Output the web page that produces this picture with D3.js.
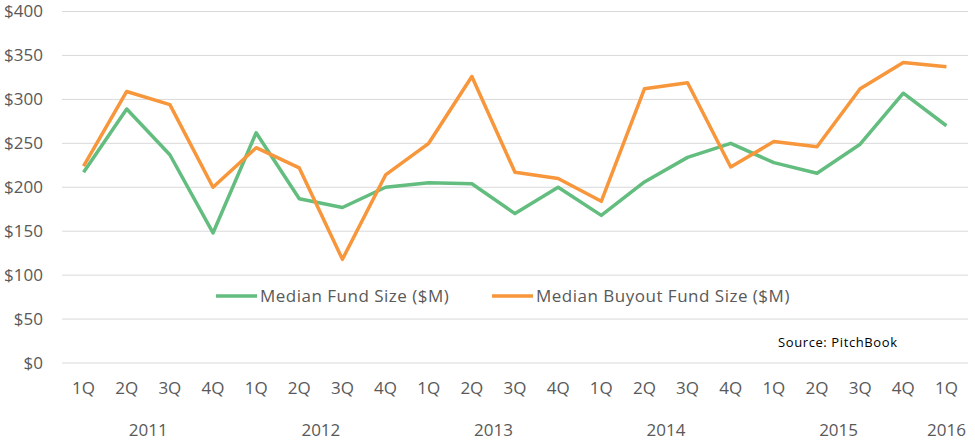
<!DOCTYPE html>
<html>
<head>
<meta charset="utf-8">
<script src="https://cdn.jsdelivr.net/npm/d3@7"></script>
<style>
  body { margin: 0; background: #fff; }
  text { font-family: "Open Sans", sans-serif; }
</style>
</head>
<body>
<div id="chart"></div>
<script>
// Quarters, 2011 1Q .. 2016 1Q
const years = ["2011", "2012", "2013", "2014", "2015", "2016"];
const quarters = ["1Q", "2Q", "3Q", "4Q"];
const periods = [];
years.forEach((y) => quarters.forEach((q) => {
  if (y !== "2016" || q === "1Q") periods.push(y + "-" + q);
}));

const medianFund = [217, 289, 237, 148, 262, 187, 177, 200, 205, 204, 170,
  200, 168, 206, 234, 250, 228, 216, 249, 307, 270];
const medianBuyout = [224, 309, 294, 200, 245, 222, 118, 214, 250, 326, 217,
  210, 184, 312, 319, 223, 252, 246, 312, 342, 337];
const yTicks = [0, 50, 100, 150, 200, 250, 300, 350, 400];

const series = [
  { name: "Median Fund Size ($M)", values: medianFund, color: "#62bd7f" },
  { name: "Median Buyout Fund Size ($M)", values: medianBuyout, color: "#f7963a" },
];

const W = 975, H = 440;
const margin = { top: 11.5, right: 7, bottom: 77, left: 62 };
const width = W - margin.left - margin.right;
const height = H - margin.top - margin.bottom;
const fontSize = "17px";

const svg = d3.select("#chart").append("svg")
  .attr("width", W).attr("height", H);
const g = svg.append("g")
  .attr("transform", `translate(${margin.left},${margin.top})`);

const x = d3.scaleBand().domain(periods).range([0, width]);
const y = d3.scaleLinear().domain([0, 400]).range([height, 0]);
const cx = (p) => x(p) + x.bandwidth() / 2;

// gridlines
g.selectAll(".grid").data(yTicks).enter().append("line")
  .attr("x1", 0).attr("x2", width)
  .attr("y1", (d) => y(d)).attr("y2", (d) => y(d))
  .attr("stroke", "#d9d9d9").attr("stroke-width", 1);

// y axis labels
const yAxis = g.append("g")
  .call(d3.axisLeft(y).tickValues(yTicks).tickSize(0).tickPadding(19)
    .tickFormat((d) => "$" + d));
yAxis.select(".domain").remove();
yAxis.selectAll("text").attr("fill", "#595959")
  .style("font-size", fontSize).style("font-family", "Open Sans, sans-serif");

// quarter labels
const xAxis = g.append("g").attr("transform", `translate(0,${height})`)
  .call(d3.axisBottom(x).tickSize(0).tickPadding(19)
    .tickFormat((d) => d.split("-")[1]));
xAxis.select(".domain").remove();
xAxis.selectAll("text").attr("fill", "#595959")
  .style("font-size", fontSize).style("font-family", "Open Sans, sans-serif");

// year labels
g.selectAll(".year").data(years).enter().append("text")
  .attr("x", (yr) => {
    const ps = periods.filter((p) => p.startsWith(yr));
    return (cx(ps[0]) + cx(ps[ps.length - 1])) / 2;
  })
  .attr("y", height + 73)
  .attr("text-anchor", "middle")
  .attr("fill", "#595959")
  .style("font-size", fontSize)
  .text((d) => d);

// lines
const line = d3.line()
  .x((d, i) => cx(periods[i]))
  .y((d) => y(d));

g.selectAll(".series").data(series).enter().append("path")
  .attr("fill", "none")
  .attr("stroke", (d) => d.color)
  .attr("stroke-width", 3.5)
  .attr("stroke-linejoin", "round")
  .attr("d", (d) => line(d.values));

// legend
const legendX = [216, 492];
const legend = svg.selectAll(".legend").data(series).enter().append("g")
  .attr("transform", (d, i) => `translate(${legendX[i]},296)`);
legend.append("line")
  .attr("x1", 0).attr("x2", 41)
  .attr("stroke", (d) => d.color).attr("stroke-width", 3.5);
legend.append("text")
  .attr("x", 44).attr("y", 6)
  .attr("fill", "#595959")
  .style("font-size", fontSize)
  .style("letter-spacing", "0.5px")
  .text((d) => d.name);

// source note
svg.append("text")
  .attr("x", 778).attr("y", 347)
  .attr("fill", "#000")
  .style("font-size", "13px")
  .style("letter-spacing", "0.6px")
  .text("Source: PitchBook");
</script>
</body>
</html>
